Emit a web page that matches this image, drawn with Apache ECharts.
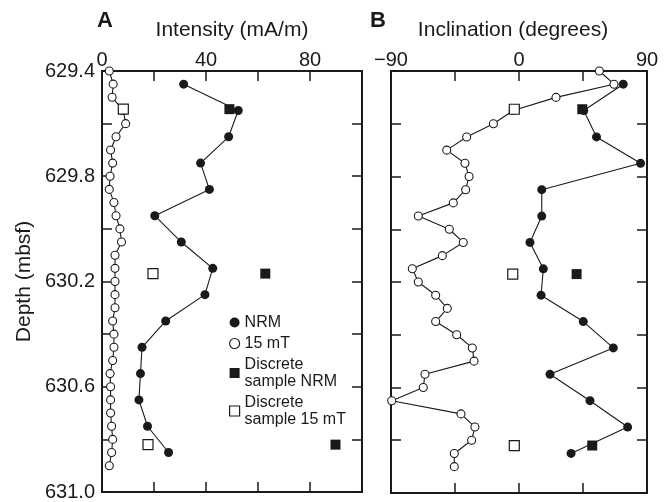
<!DOCTYPE html>
<html><head><meta charset="utf-8">
<script src="https://cdn.jsdelivr.net/npm/echarts@6/dist/echarts.min.js"></script>
<style>html,body{margin:0;padding:0;background:#fff}#c{width:668px;height:502px}</style>
</head><body><div id="c"></div>
<script>
// NRM (continuous, every 0.1 m)
const nrmDepth = [629.45,629.55,629.65,629.75,629.85,629.95,630.05,630.15,630.25,630.35,630.45,630.55,630.65,630.75,630.85];
const nrmIntensity = [31.4,52.4,48.7,37.9,41.3,20.3,30.5,42.6,39.6,24.5,15.4,14.8,14.2,17.5,25.6];
const nrmInclination = [73.3,45.5,54.5,85.5,16.0,16.0,7.7,17.1,15.5,45.2,66.3,21.8,49.9,76.4,36.6];
// 15 mT (every 0.05 m)
const mtDepth = [629.40,629.45,629.50,629.55,629.60,629.65,629.70,629.75,629.80,629.85,629.90,629.95,630.00,630.05,630.10,630.15,630.20,630.25,630.30,630.35,630.40,630.45,630.50,630.55,630.60,630.65,630.70,630.75,630.80,630.85,630.90];
const mtIntensity = [2.8,4.3,3.9,8.2,9.1,5.4,3.3,4.1,3.1,2.8,4.6,5.4,6.9,7.5,5.0,5.0,5.0,5.0,5.0,4.1,4.6,4.6,4.1,3.1,3.3,3.3,3.3,3.7,4.1,3.7,2.8];
const mtInclination = [56.5,66.8,26.0,-4.0,-18.0,-36.8,-50.8,-38.0,-35.1,-37.5,-46.2,-70.8,-49.0,-39.2,-53.9,-75.0,-70.8,-58.6,-50.4,-58.6,-43.8,-32.8,-31.6,-66.1,-67.3,-89.5,-40.8,-31.0,-33.3,-45.5,-45.5];
// Discrete samples
const discreteDepth = [629.545,630.17,630.82];
const discreteNrmIntensity = [49.0,62.8,89.8];
const discrete15Intensity = [8.2,19.6,17.7];
const discreteNrmInclination = [44.5,40.5,51.5];
const discrete15Inclination = [-3.3,-4.4,-3.3];
// Axis tick labels
const depthLabels = [629.4,629.8,630.2,630.6,631.0];
const intensityLabels = [0,40,80];
const inclinationLabels = [-90,0,90];

const FONT = 'Liberation Sans, Arial, Helvetica, sans-serif';
const INK = '#1a1a1a';
const pair = (ys, xs) => xs.map((x, i) => [x, ys[i]]);
const near = (v, arr) => arr.some(a => Math.abs(a - v) < 1e-6);
const fmtNum = v => (v < 0 ? '\u2212' + Math.abs(v) : String(v));

function xAxisPair(grid, min, max, interval, labels, name, namePad) {
  const base = {
    type: 'value', gridIndex: grid, min, max, interval,
    axisLine: { show: true, onZero: false, lineStyle: { color: INK, width: 2 } },
    axisTick: { show: true, inside: true, length: 10, lineStyle: { color: INK, width: 1.5 } },
    splitLine: { show: false }
  };
  return [
    Object.assign({}, base, {
      position: 'top',
      axisLabel: { show: true, margin: 1, fontSize: 20, color: INK, fontFamily: FONT,
        formatter: v => near(v, labels) ? fmtNum(Math.round(v)) : '' },
      name, nameLocation: 'middle', nameGap: 30,
      nameTextStyle: { fontSize: 21, color: INK, fontFamily: FONT, padding: namePad }
    }),
    Object.assign({}, base, { position: 'bottom', axisLabel: { show: false } })
  ];
}
function yAxisPair(grid, showLabels) {
  const base = {
    type: 'value', gridIndex: grid, min: 629.4, max: 631.0, interval: 0.2, inverse: true,
    axisLine: { show: true, onZero: false, lineStyle: { color: INK, width: 2 } },
    axisTick: { show: true, inside: true, length: 10, lineStyle: { color: INK, width: 1.5 } },
    splitLine: { show: false }
  };
  const left = Object.assign({}, base, {
    position: 'left',
    axisLabel: showLabels ? { show: true, margin: 7, fontSize: 20, color: INK, fontFamily: FONT,
      padding: [4, 0, 0, 0],
      formatter: v => near(Math.round(v * 10) / 10, depthLabels) ? v.toFixed(1) : '' } : { show: false }
  });
  if (showLabels) {
    left.name = 'Depth (mbsf)';
    left.nameLocation = 'middle';
    left.nameGap = 67;
    left.nameTextStyle = { fontSize: 21, color: INK, fontFamily: FONT };
  }
  return [left, Object.assign({}, base, { position: 'right', axisLabel: { show: false } })];
}

const lineStyle = { color: INK, width: 1.1 };
function panelSeries(xIdx, yIdx, nrmVals, mtVals, dNrm, d15) {
  return [
    { name: '15 mT', type: 'line', xAxisIndex: xIdx, yAxisIndex: yIdx, data: pair(mtDepth, mtVals),
      symbol: 'circle', symbolSize: 8, showAllSymbol: true, lineStyle,
      itemStyle: { color: '#fff', borderColor: INK, borderWidth: 1.1, opacity: 1 }, z: 3, animation: false },
    { name: 'NRM', type: 'line', xAxisIndex: xIdx, yAxisIndex: yIdx, data: pair(nrmDepth, nrmVals),
      symbol: 'circle', symbolSize: 9, showAllSymbol: true, lineStyle,
      itemStyle: { color: INK, borderColor: INK, borderWidth: 0, opacity: 1 }, z: 4, animation: false },
    { name: 'Discrete sample NRM', type: 'scatter', xAxisIndex: xIdx, yAxisIndex: yIdx,
      data: pair(discreteDepth, dNrm), symbol: 'rect', symbolSize: 10,
      itemStyle: { color: INK, borderColor: INK, borderWidth: 0, opacity: 1 }, z: 3, animation: false },
    { name: 'Discrete sample 15 mT', type: 'scatter', xAxisIndex: xIdx, yAxisIndex: yIdx,
      data: pair(discreteDepth, d15), symbol: 'rect', symbolSize: 10,
      itemStyle: { color: '#fff', borderColor: INK, borderWidth: 1.2, opacity: 1 }, z: 3, animation: false }
  ];
}

const chart = echarts.init(document.getElementById('c'), null, { renderer: 'canvas' });
chart.setOption({
  backgroundColor: '#fff',
  animation: false,
  textStyle: { fontFamily: FONT },
  title: [
    { text: 'A', left: 97, top: 10, padding: 0, textStyle: { fontSize: 22, fontWeight: 'bold', color: INK, fontFamily: FONT } },
    { text: 'B', left: 370, top: 10, padding: 0, textStyle: { fontSize: 22, fontWeight: 'bold', color: INK, fontFamily: FONT } }
  ],
  grid: [
    { left: 102, width: 260, top: 71, height: 422 },
    { left: 391, width: 256, top: 71, height: 422 }
  ],
  xAxis: [].concat(
    xAxisPair(0, 0, 100, 20, intensityLabels, 'Intensity (mA/m)', [0, 0, 0, 0]),
    xAxisPair(1, -90, 90, 45, inclinationLabels, 'Inclination (degrees)', [0, 12, 0, 0])
  ),
  yAxis: [].concat(yAxisPair(0, true), yAxisPair(1, false)),
  legend: {
    orient: 'vertical', left: 229, top: 314, padding: 0, itemGap: 4,
    itemWidth: 10, itemHeight: 10, selectedMode: false,
    textStyle: { fontSize: 16, lineHeight: 17, color: INK, fontFamily: FONT },
    formatter: n => n.replace('Discrete ', 'Discrete\n'),
    data: [
      { name: 'NRM', icon: 'circle', itemStyle: { color: INK, borderWidth: 0 } },
      { name: '15 mT', icon: 'circle', itemStyle: { color: '#fff', borderColor: INK, borderWidth: 1.1 } },
      { name: 'Discrete sample NRM', icon: 'rect', itemStyle: { color: INK, borderWidth: 0 } },
      { name: 'Discrete sample 15 mT', icon: 'rect', itemStyle: { color: '#fff', borderColor: INK, borderWidth: 1.2 } }
    ]
  },
  series: [].concat(
    panelSeries(0, 0, nrmIntensity, mtIntensity, discreteNrmIntensity, discrete15Intensity),
    panelSeries(2, 2, nrmInclination, mtInclination, discreteNrmInclination, discrete15Inclination)
  )
});
</script></body></html>
